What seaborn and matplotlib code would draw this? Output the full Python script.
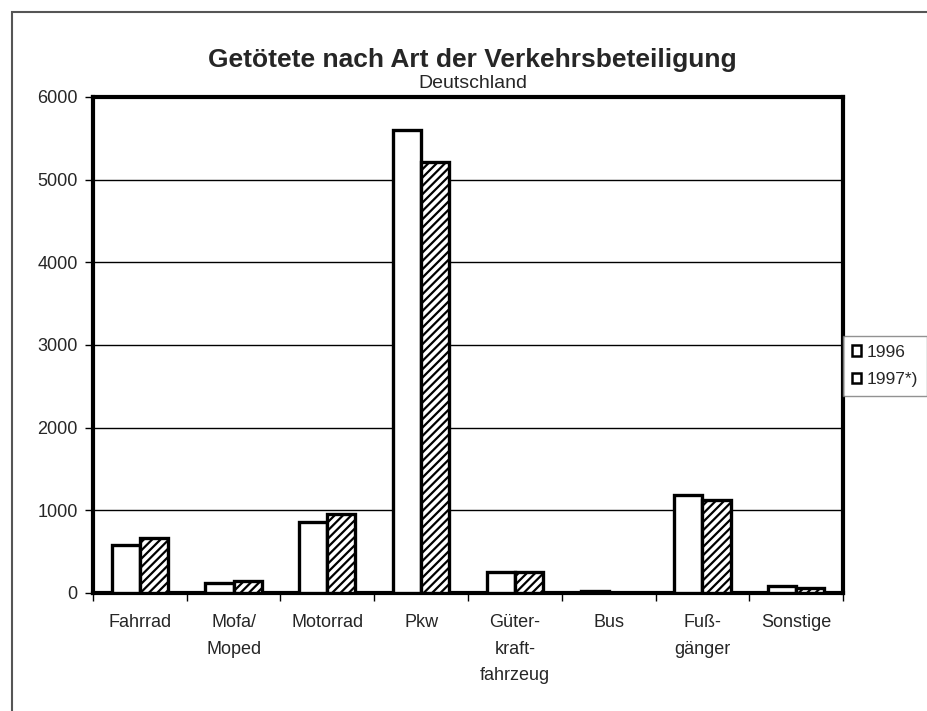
import pandas as pd
import numpy as np
import matplotlib.pyplot as plt
import matplotlib.patches as mpatches
import seaborn as sns

# DATA
categories = ["Fahrrad", "Mofa/\nMoped", "Motorrad", "Pkw",
              "Güter-\nkraft-\nfahrzeug", "Bus", "Fuß-\ngänger", "Sonstige"]
years = ["1996", "1997*)"]
values_1996 = [580, 120, 860, 5600, 250, 20, 1180, 90]
values_1997 = [670, 150, 960, 5210, 250, 0, 1120, 55]

df = pd.DataFrame({
    "Art": categories * 2,
    "Jahr": [years[0]] * len(categories) + [years[1]] * len(categories),
    "Getoetete": values_1996 + values_1997,
})

sns.set_theme(style="white")
plt.rcParams['font.family'] = ['Liberation Sans', 'DejaVu Sans']
plt.rcParams['hatch.color'] = 'black'
plt.rcParams['hatch.linewidth'] = 1.6

fig = plt.figure(figsize=(9.27, 7.11), dpi=100)
ax = fig.add_axes([0.1003, 0.166, 0.8091, 0.6976])

sns.barplot(data=df, x="Art", y="Getoetete", hue="Jahr", ax=ax,
            palette=["white", "white"], width=0.6, gap=0,
            edgecolor="black", linewidth=2.4, saturation=1, zorder=3)

# hatch second series
for bar in ax.containers[1]:
    bar.set_hatch("////")

ax.set_ylim(0, 6000)
ax.set_xlim(-0.5, len(categories) - 0.5)
ax.set_yticks(range(0, 6001, 1000))
ax.set_yticklabels([str(v) for v in range(0, 6001, 1000)], fontsize=13)
ax.yaxis.grid(True, color="black", linewidth=1.0, zorder=0)
ax.set_axisbelow(True)

# x ticks at category boundaries, labels centered
ax.set_xticks(np.arange(-0.5, len(categories), 1.0))
ax.set_xticklabels([])
ax.set_xticks(np.arange(len(categories)), minor=True)
ax.set_xticklabels(categories, minor=True, fontsize=13, linespacing=1.75, va="top")
ax.tick_params(axis="x", which="minor", length=0, pad=15)
ax.tick_params(axis="x", which="major", direction="out", length=6, width=1, color="black", bottom=True)
ax.tick_params(axis="y", direction="out", length=6, width=1, color="black", left=True, pad=5)

for s in ax.spines.values():
    s.set_visible(True)
    s.set_color("black")
    s.set_linewidth(3)

ax.set_xlabel("")
ax.set_ylabel("")

# legend
handles, labels = ax.get_legend_handles_labels()
leg = ax.legend(handles, labels, loc="center left", bbox_to_anchor=(1.0, 0.458),
                frameon=True, fontsize=12.5, handlelength=0.55, handleheight=0.55,
                handletextpad=0.3, borderpad=0.5, labelspacing=0.7,
                fancybox=False, borderaxespad=0.0)
leg.get_frame().set_edgecolor("#777777")
leg.get_frame().set_linewidth(1.0)
for h in leg.legend_handles:
    h.set_linewidth(1.8)

fig.text(0.51, 0.915, "Getötete nach Art der Verkehrsbeteiligung",
         ha="center", va="center", fontsize=19, fontweight="bold")
fig.text(0.51, 0.883, "Deutschland", ha="center", va="center", fontsize=14)

# outer frame of the chart area
frame = mpatches.Rectangle((12 / 927, -0.1), 1.2, 1 - 12 / 711 + 0.1,
                           transform=fig.transFigure, fill=False,
                           edgecolor="#555555", linewidth=1.5, zorder=0)
fig.patches.append(frame)

fig.savefig("out.png", dpi=100)
